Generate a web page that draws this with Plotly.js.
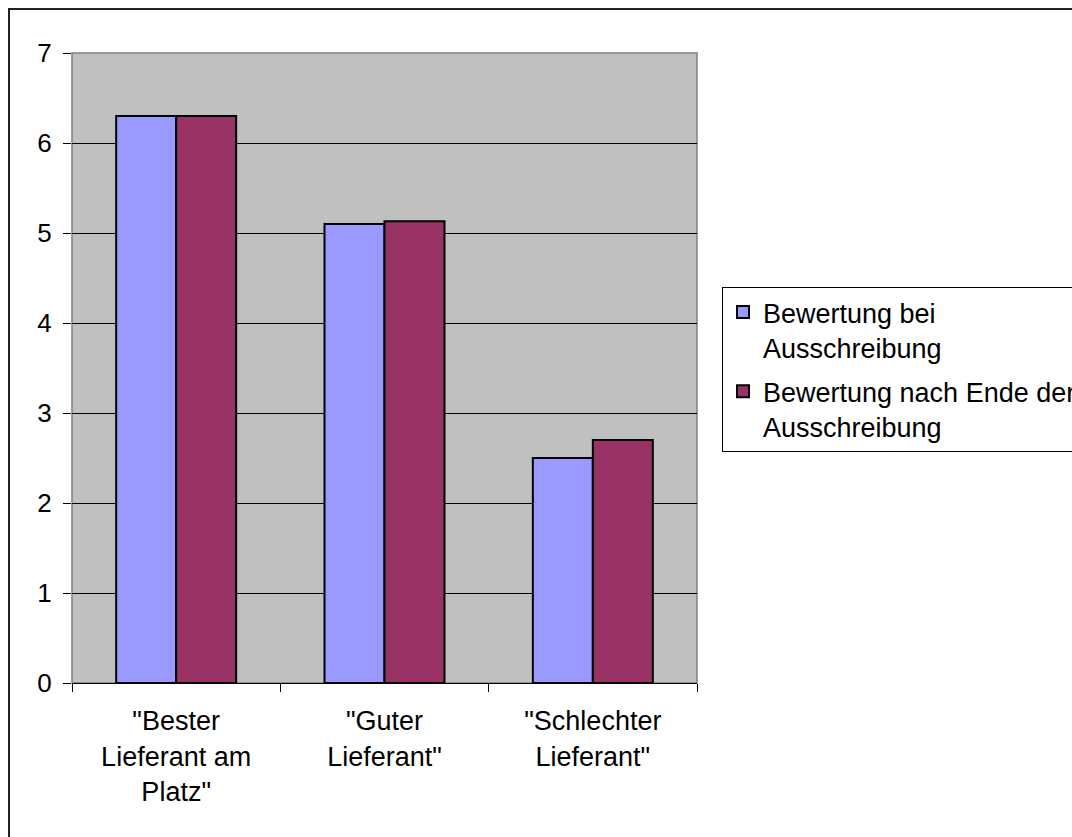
<!DOCTYPE html>
<html>
<head>
<meta charset="utf-8">
<script src="https://cdn.plot.ly/plotly-3.0.1.min.js"></script>
<style>
html,body{margin:0;padding:0;background:#fff;overflow:hidden;}
#frame{position:absolute;left:8px;top:8px;width:1200px;height:1000px;border-top:2px solid #222;border-left:2px solid #222;pointer-events:none;}
#chart{position:absolute;left:0;top:0;width:1072px;height:837px;}
</style>
</head>
<body>
<div id="chart"></div>
<div id="frame"></div>
<script>
var categories = ['"Bester<br>Lieferant am<br>Platz"', '"Guter<br>Lieferant"', '"Schlechter<br>Lieferant"'];
var seriesNames = ['Bewertung bei<br>Ausschreibung', 'Bewertung nach Ende der<br>Ausschreibung'];
var valuesBei = [6.3, 5.1, 2.5];
var valuesNach = [6.3, 5.13, 2.7];
var colors = ['#9999FF', '#993366'];

var traces = [
  {type:'bar', x:categories, y:valuesBei, name:seriesNames[0], legendgroup:'a',
   marker:{color:colors[0], line:{color:'#000', width:2}}},
  {type:'bar', x:categories, y:valuesNach, name:seriesNames[1], legendgroup:'b',
   marker:{color:colors[1], line:{color:'#000', width:2}}}
];

var layout = {
  width:1072, height:837,
  margin:{l:72, r:375, t:53, b:154, autoexpand:false},
  paper_bgcolor:'#fff',
  plot_bgcolor:'#C0C0C0',
  font:{family:'Arial, Liberation Sans, sans-serif', color:'#000', size:25},
  barmode:'group',
  bargap:0.424,
  bargroupgap:0,
  showlegend:true,
  legend:{x:1.04, xanchor:'left', y:0.6286, yanchor:'top', valign:'top',
          bordercolor:'#000', borderwidth:1, bgcolor:'#fff',
          font:{size:27}, tracegroupgap:6},
  xaxis:{showline:true, linecolor:'#000', linewidth:1, ticks:'outside', tickson:'boundaries',
         ticklen:8, tickcolor:'#000', showgrid:false, tickfont:{size:27}, ticklabelstandoff:14},
  yaxis:{range:[0,7], dtick:1, showline:false, ticks:'outside', ticklen:8, tickcolor:'#000',
         gridcolor:'#000', gridwidth:1, zeroline:false, tickfont:{size:26}, ticklabelstandoff:6},
  shapes:[{type:'rect', xref:'paper', yref:'paper', x0:0, x1:1, y0:0, y1:1,
           line:{color:'#808080', width:1.5}, layer:'below'}]
};

Plotly.newPlot('chart', traces, layout, {displayModeBar:false, staticPlot:true});
</script>
</body>
</html>
